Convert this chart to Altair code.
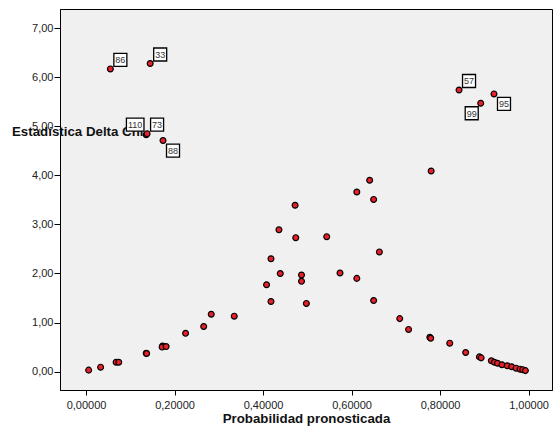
import altair as alt
import pandas as pd

# Unlabelled cases: predicted probability and delta chi-square statistic
prob = [0.006, 0.033, 0.068, 0.074, 0.136, 0.137, 0.173, 0.172, 0.181, 0.225,
        0.266, 0.283, 0.335, 0.408, 0.418, 0.418, 0.436, 0.439, 0.4725, 0.474,
        0.487, 0.487, 0.498, 0.544, 0.574, 0.612, 0.612, 0.641, 0.650, 0.650,
        0.663, 0.780, 0.709, 0.729, 0.777, 0.779, 0.822, 0.858, 0.889, 0.893,
        0.916, 0.923, 0.930, 0.940, 0.952, 0.962, 0.972, 0.981, 0.987, 0.993]
delta = [0.03, 0.09, 0.19, 0.19, 0.375, 0.37, 0.52, 0.50, 0.51, 0.78,
         0.92, 1.17, 1.13, 1.77, 1.43, 2.30, 2.89, 2.00, 3.39, 2.73,
         1.97, 1.84, 1.39, 2.75, 2.01, 3.66, 1.90, 3.90, 3.51, 1.45,
         2.44, 4.09, 1.08, 0.86, 0.70, 0.68, 0.58, 0.39, 0.30, 0.28,
         0.22, 0.19, 0.17, 0.14, 0.12, 0.10, 0.07, 0.05, 0.04, 0.02]

# Labelled (outlying) cases
case_ids = ["86", "33", "110", "73", "88", "57", "99", "95"]
case_prob = [0.055, 0.145, 0.136, 0.138, 0.174, 0.843, 0.892, 0.922]
case_delta = [6.17, 6.28, 4.83, 4.85, 4.71, 5.74, 5.47, 5.66]
case_pos = ["ur", "ur", "ul", "ur", "lr", "ur", "ll", "lr"]

x_ticks = [0.0, 0.2, 0.4, 0.6, 0.8, 1.0]
y_ticks = [0, 1, 2, 3, 4, 5, 6, 7]

pts = pd.DataFrame({"p": prob + case_prob, "d": delta + case_delta})
labs = pd.DataFrame({"p": case_prob, "d": case_delta, "id": case_ids, "pos": case_pos})

FONT = "Liberation Sans"

xenc = alt.X("p:Q", scale=alt.Scale(domain=[-0.0588, 1.0531], nice=False, zero=False),
             axis=alt.Axis(values=x_ticks, title="Probabilidad pronosticada",
                           labelExpr="replace(format(datum.value, '.5f'), '.', ',')",
                           tickSize=5, labelPadding=4, titleFontWeight="bold",
                           titleFontSize=13.3, titleBaseline="alphabetic", titleY=32,
                           titleColor="#111"))
yenc = alt.Y("d:Q", scale=alt.Scale(domain=[-0.375, 7.391], nice=False, zero=False),
             axis=alt.Axis(values=y_ticks, title="Estadística Delta Chi",
                           labelExpr="replace(format(datum.value, '.2f'), '.', ',')",
                           tickSize=6, labelPadding=1, titleAngle=0, titleAlign="left",
                           titleBaseline="middle", titleX=-48.5, titleY=122.5,
                           titleFontWeight="bold", titleFontSize=13.3, titleColor="#111"))

points = alt.Chart(pts).mark_point(
    filled=True, fill="#e8202a", stroke="black", strokeWidth=1.2, size=34, opacity=1
).encode(x=xenc, y=yenc)

offsets = {"ur": (10, -9), "ul": (-11, -10), "lr": (10, 10), "ll": (-9, 10)}
layers = [points]
for pos, (dx, dy) in offsets.items():
    shape = "M-1.35,-1H1.35V1H-1.35Z" if pos == "ul" else "M-1,-1H1V1H-1Z"
    base = alt.Chart(labs).transform_filter(alt.datum.pos == pos)
    box = base.mark_point(shape=shape, size=169, filled=True, fill="white",
                          stroke="black", strokeWidth=1.3, opacity=1,
                          xOffset=dx, yOffset=dy).encode(x="p:Q", y="d:Q")
    txt = base.mark_text(font=FONT, fontSize=9, color="#333", align="center",
                         baseline="middle", xOffset=dx, yOffset=dy + 0.5).encode(
        x="p:Q", y="d:Q", text="id:N")
    layers += [box, txt]

chart = alt.layer(*layers).properties(
    width=492, height=381,
    autosize=alt.AutoSizeParams(type="none"),
    padding={"left": 60, "top": 9, "right": 1, "bottom": 44},
    background="white",
).configure_view(
    fill="#f0f0f0", stroke="black", strokeWidth=1
).configure_axis(
    grid=False, domainColor="black", tickColor="black", labelColor="#222",
    labelFont=FONT, titleFont=FONT, labelFontSize=11, domainWidth=1, tickWidth=1
)

chart.save("out.html", embed_options={"renderer": "svg", "actions": False})
